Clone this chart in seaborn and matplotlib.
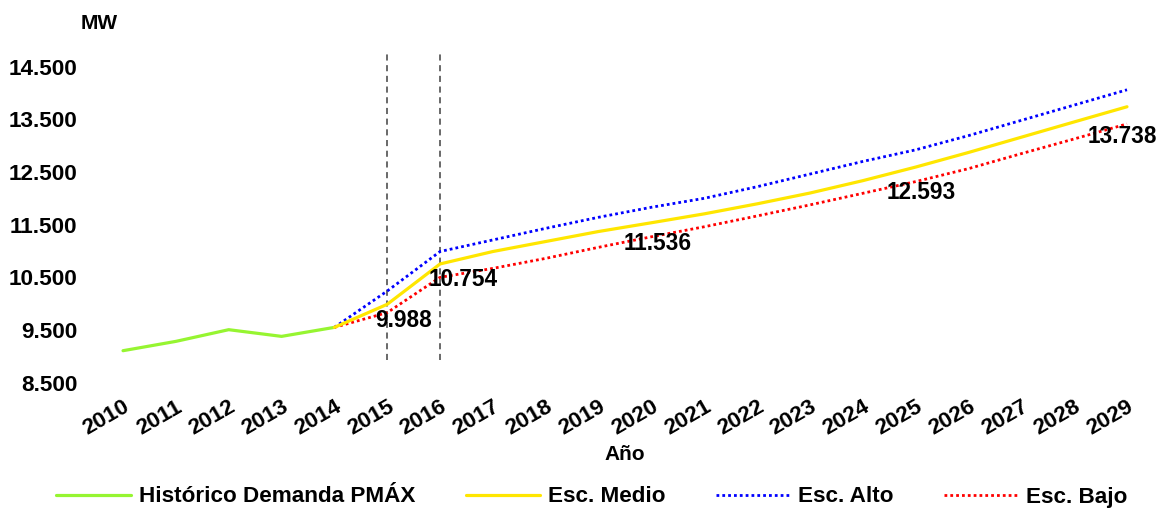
import matplotlib
matplotlib.use("Agg")
import matplotlib.pyplot as plt
from matplotlib.lines import Line2D
import seaborn as sns
import pandas as pd

# Demanda máxima de potencia (MW): histórico y escenarios de proyección
anios_hist = [2010, 2011, 2012, 2013, 2014]
historico = [9107, 9284, 9506, 9379, 9550]

anios_proy = list(range(2014, 2030))
esc_medio = [9550, 9988, 10754, 10990, 11180, 11370, 11536, 11705,
             11895, 12100, 12335, 12593, 12870, 13160, 13450, 13738]
esc_alto = [9550, 10240, 10990, 11210, 11430, 11640, 11830, 12000,
            12220, 12460, 12700, 12920, 13190, 13480, 13770, 14060]
esc_bajo = [9550, 9830, 10500, 10670, 10860, 11070, 11270, 11460,
            11665, 11875, 12095, 12317, 12563, 12848, 13127, 13412]

anios_etiqueta = [2015, 2016, 2020, 2025, 2029]
divisiones = [2015, 2016]
anios_eje = list(range(2010, 2030))
yticks = [8500, 9500, 10500, 11500, 12500, 13500, 14500]

nombres = ["Histórico Demanda PMÁX", "Esc. Medio", "Esc. Alto", "Esc. Bajo"]
colores = ["#96F531", "#FFE600", "#0000FF", "#FF0000"]

sns.set_theme(style="white")
plt.rcParams["font.family"] = ["Liberation Sans", "DejaVu Sans"]
plt.rcParams["font.weight"] = "bold"
plt.rcParams["text.color"] = "black"
plt.rcParams["xtick.color"] = "black"
plt.rcParams["ytick.color"] = "black"
plt.rcParams["axes.labelcolor"] = "black"

fig = plt.figure(figsize=(11.57, 5.08), dpi=100)
ax = fig.add_axes([0.0835, 0.2467, 0.9134, 0.674])

df_hist = pd.DataFrame({"Año": anios_hist, "MW": historico})
df_proy = pd.DataFrame({"Año": anios_proy, "Medio": esc_medio,
                        "Alto": esc_alto, "Bajo": esc_bajo})

punteado = (0, (1, 1.1))
sns.lineplot(data=df_hist, x="Año", y="MW", ax=ax, color=colores[0], lw=2.3)
sns.lineplot(data=df_proy, x="Año", y="Alto", ax=ax, color=colores[2],
             lw=2.0, linestyle=punteado)
sns.lineplot(data=df_proy, x="Año", y="Bajo", ax=ax, color=colores[3],
             lw=2.0, linestyle=punteado)
sns.lineplot(data=df_proy, x="Año", y="Medio", ax=ax, color=colores[1], lw=2.3)

# Líneas de corte entre histórico y proyección
for d in divisiones:
    ax.axvline(d, ymin=0.066, ymax=0.972, color="#404040", lw=1.1,
               linestyle=(0, (4, 3)), zorder=1)

# Etiquetas de valor del escenario medio
desplazamientos = {2015: (11.5, -11.5), 2016: (16.5, -11.5), 2020: (4.3, -15),
                   2025: (4.3, -18), 2029: (-3.6, -21.6)}
for a in anios_etiqueta:
    v = esc_medio[anios_proy.index(a)]
    txt = f"{v:,}".replace(",", ".")
    ax.annotate(txt, xy=(a, v), xytext=desplazamientos[a],
                textcoords="offset points", ha="center", va="center",
                fontsize=16.3, fontweight="bold", color="black",
                annotation_clip=False)

ax.set_xlim(2009.5, 2029.5)
ax.set_ylim(8500, 15000)
ax.set_xticks(anios_eje)
ax.set_xticklabels([str(a) for a in anios_eje], rotation=30, ha="right",
                   rotation_mode="anchor", fontsize=16.2, fontweight="bold")
ax.set_yticks(yticks)
ax.set_yticklabels([f"{v:,}".replace(",", ".") for v in yticks],
                   fontsize=16.2, fontweight="bold")
ax.tick_params(axis="x", length=0, pad=10)
ax.tick_params(axis="y", length=0, pad=14)
ax.set_xlabel("Año", fontsize=15, fontweight="bold", labelpad=4)
ax.set_ylabel("")
for s in ax.spines.values():
    s.set_visible(False)
ax.grid(False)

fig.text(99 / 1157, 1 - 23.5 / 508, "MW", ha="center", va="center",
         fontsize=15, fontweight="bold")

handles = [
    Line2D([], [], color=colores[0], lw=2.3),
    Line2D([], [], color=colores[1], lw=2.3),
    Line2D([], [], color=colores[2], lw=2.0, linestyle=punteado),
    Line2D([], [], color=colores[3], lw=2.0, linestyle=punteado),
]
fig.legend(handles, nombres, loc="center",
           bbox_to_anchor=(592 / 1157, 1 - 497 / 508),
           ncol=4, frameon=False, handlelength=3.3,
           columnspacing=2.25, handletextpad=0.35,
           prop={"weight": "bold", "size": 16.2})

fig.savefig("out.png", dpi=100)
